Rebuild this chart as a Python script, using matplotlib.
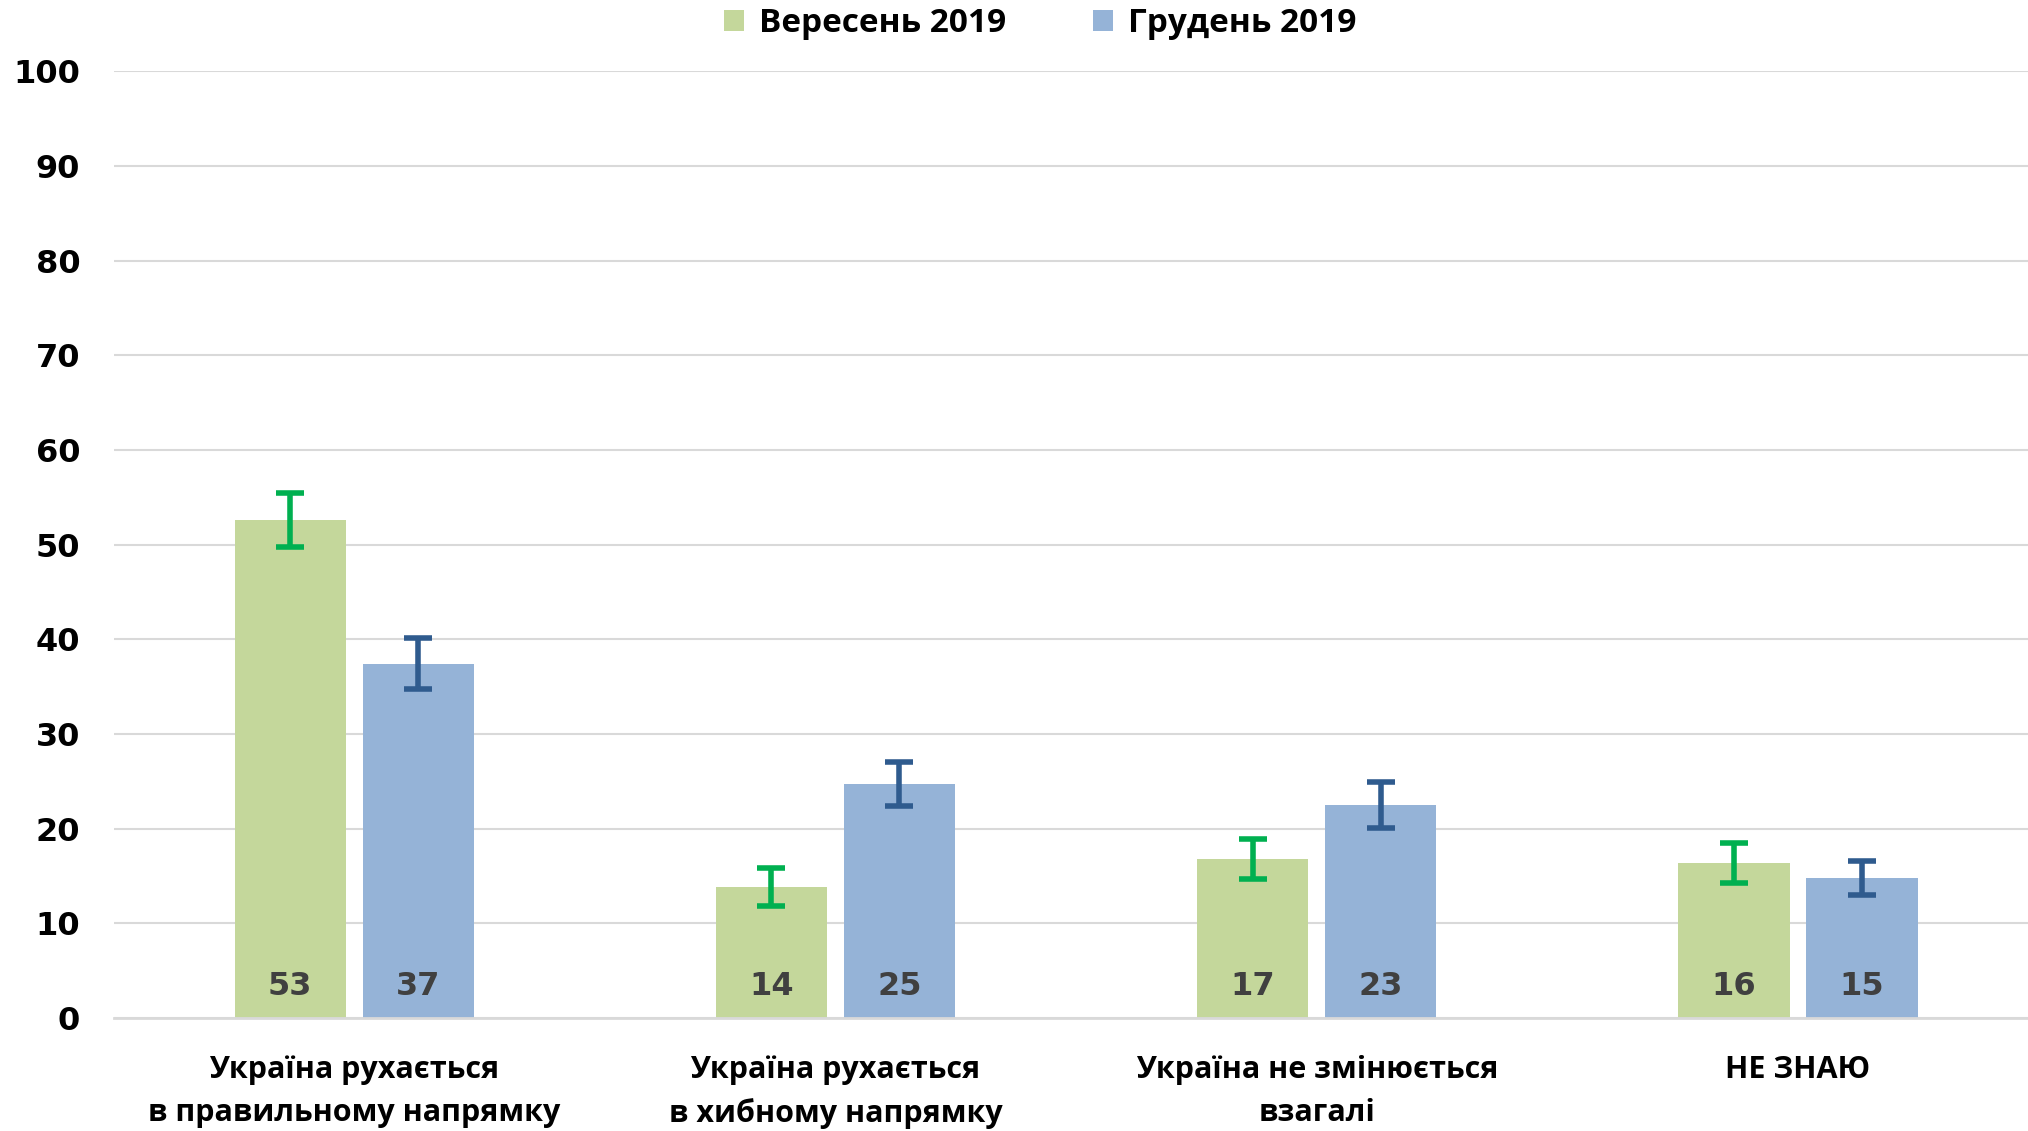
import matplotlib.pyplot as plt
import numpy as np

# data
categories = ["Україна рухається\nв правильному напрямку",
              "Україна рухається\nв хибному напрямку",
              "Україна не змінюється\nвзагалі",
              "НЕ ЗНАЮ"]
series_names = ["Вересень 2019", "Грудень 2019"]
sep_values = [52.6, 13.8, 16.8, 16.4]
dec_values = [37.4, 24.7, 22.5, 14.8]
sep_labels = ["53", "14", "17", "16"]
dec_labels = ["37", "25", "23", "15"]
sep_err = [2.9, 2.0, 2.1, 2.1]
dec_err = [2.7, 2.3, 2.4, 1.8]
yticks = [0, 10, 20, 30, 40, 50, 60, 70, 80, 90, 100]

green = "#C4D79B"
blue = "#95B3D7"
green_err = "#00B050"
blue_err = "#2F5B8E"

fig = plt.figure(figsize=(20.28, 11.31), dpi=100)
ax = fig.add_axes([0.056, 0.1, 0.944, 0.837])

x = np.arange(len(categories))
off = 0.133
w = 0.231

ax.bar(x - off, sep_values, w, color=green, label=series_names[0], zorder=2)
ax.bar(x + off, dec_values, w, color=blue, label=series_names[1], zorder=2)
ax.errorbar(x - off, sep_values, yerr=sep_err, fmt="none", ecolor=green_err,
            elinewidth=4, capsize=10, capthick=4, zorder=3)
ax.errorbar(x + off, dec_values, yerr=dec_err, fmt="none", ecolor=blue_err,
            elinewidth=4, capsize=10, capthick=4, zorder=3)

# value labels at bottom of bars
for i in range(len(categories)):
    ax.text(x[i] - off, 3.3, sep_labels[i], ha="center", va="center",
            fontsize=23, fontweight="bold", color="#404040", family="DejaVu Sans", zorder=4)
    ax.text(x[i] + off, 3.3, dec_labels[i], ha="center", va="center",
            fontsize=23, fontweight="bold", color="#404040", family="DejaVu Sans", zorder=4)

ax.set_xlim(-0.5, 3.478)
ax.set_ylim(0, 100)
ax.set_yticks(yticks)
ax.set_yticklabels([str(t) for t in yticks], fontsize=23, fontweight="bold",
                   family="DejaVu Sans")
ax.set_xticks(x)
ax.set_xticklabels(categories, fontsize=22, fontweight="bold", family="Open Sans",
                   linespacing=1.55)
ax.tick_params(axis="both", length=0)
ax.tick_params(axis="y", pad=24)
ax.tick_params(axis="x", pad=27)
ax.grid(axis="y", color="#D9D9D9", linewidth=1.5, zorder=0)
for s in ["top", "right", "left"]:
    ax.spines[s].set_visible(False)
ax.spines["bottom"].set_color("#D9D9D9")
ax.spines["bottom"].set_linewidth(2)

fig.legend(loc="center", bbox_to_anchor=(0.513, 0.979), ncol=2, frameon=False,
           prop={"family": "Open Sans", "weight": "bold", "size": 24},
           handlelength=0.6, handleheight=0.6, handletextpad=0.45, columnspacing=2.6)

fig.savefig("out.png", dpi=100)
